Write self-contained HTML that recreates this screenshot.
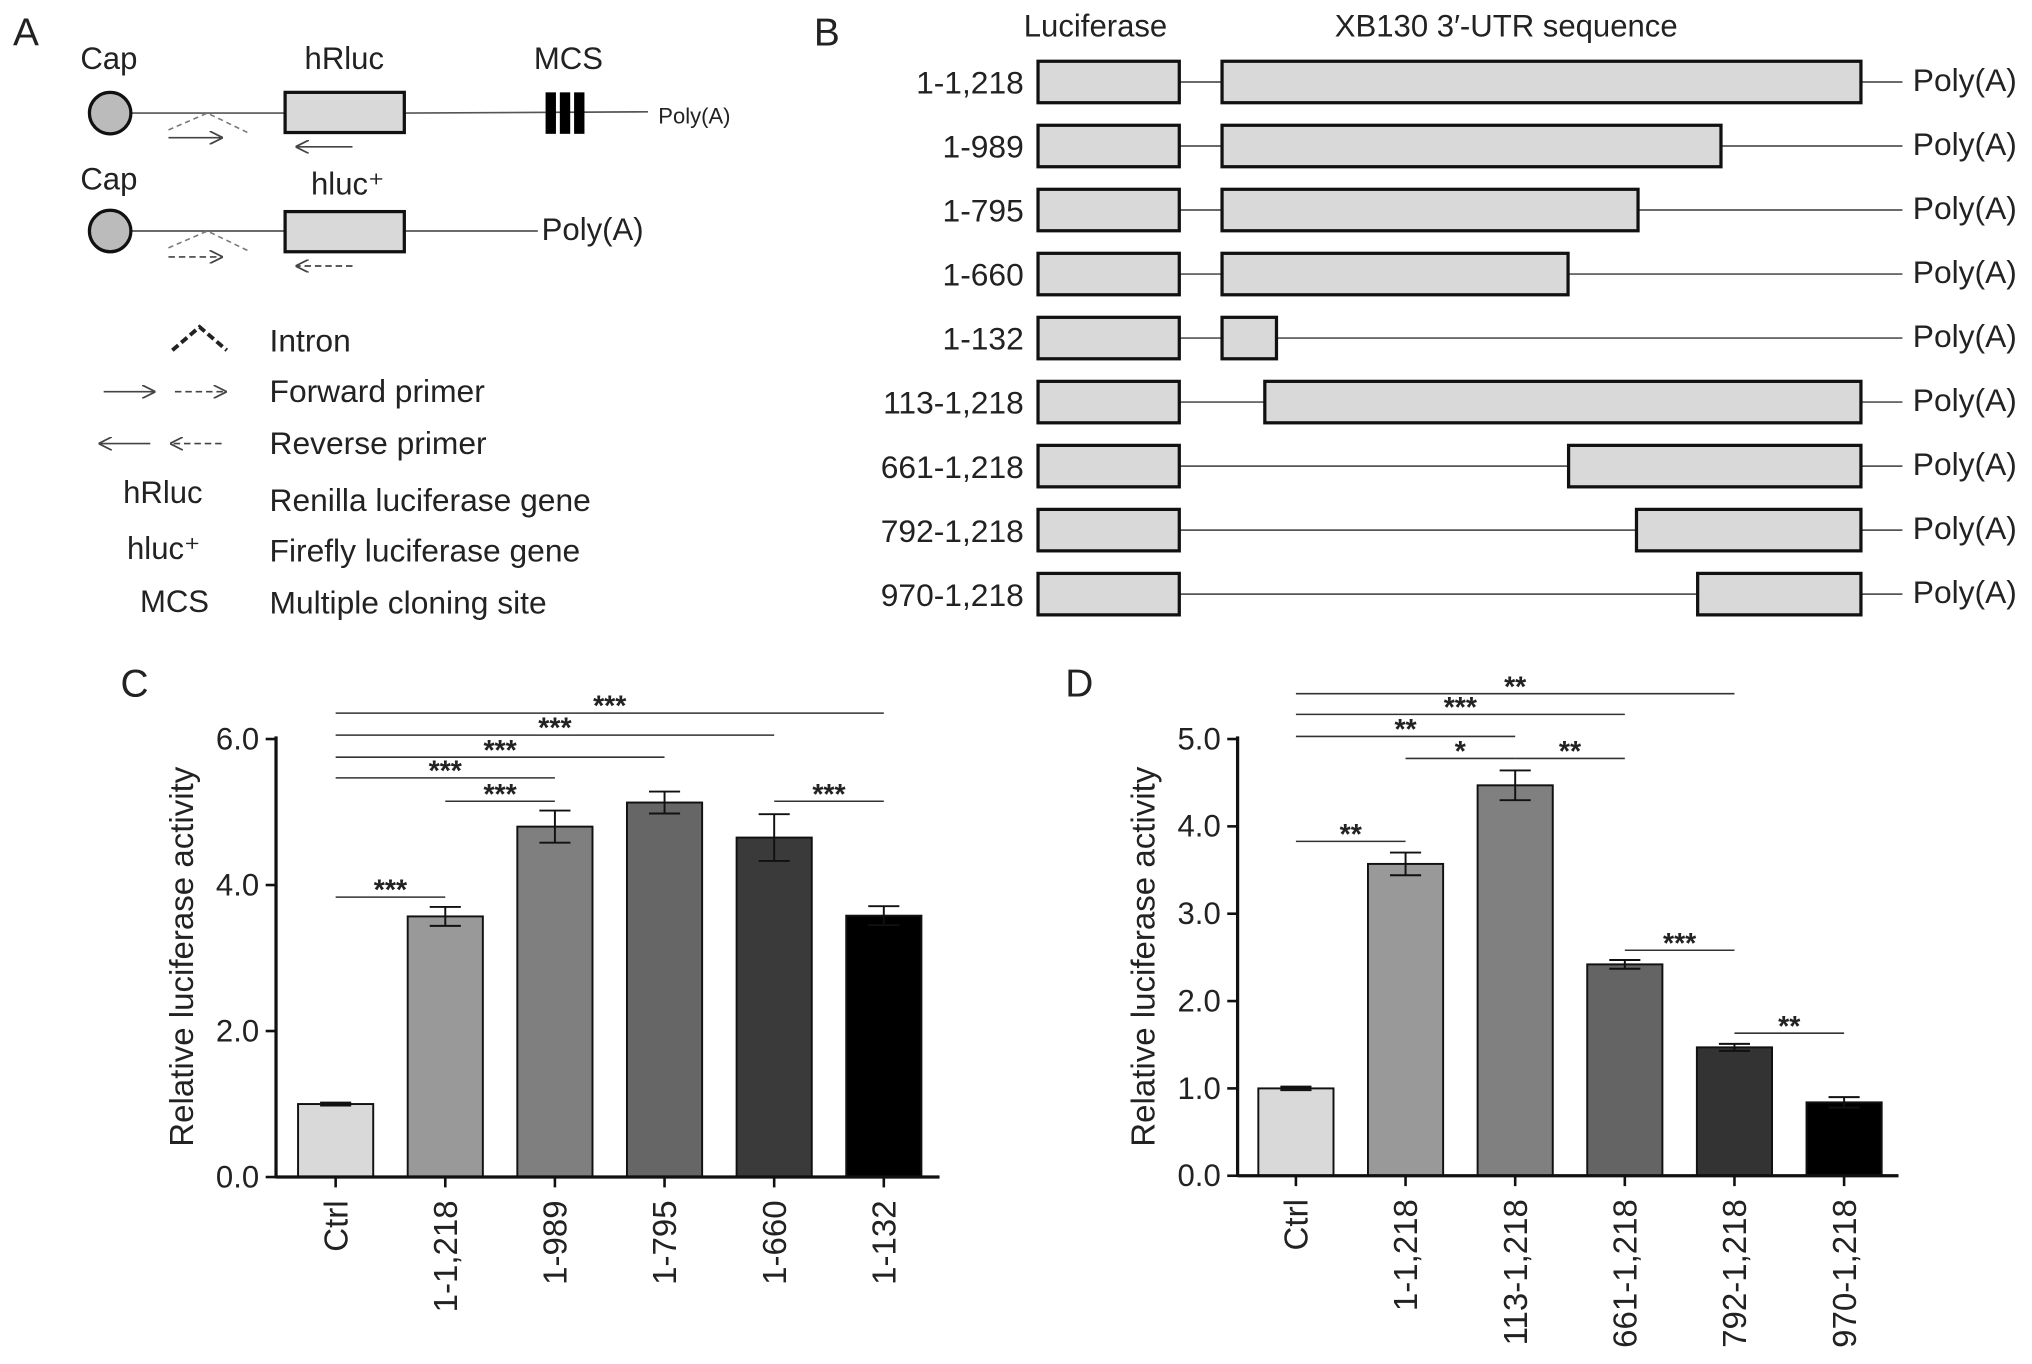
<!DOCTYPE html>
<html><head><meta charset="utf-8"><style>
html,body{margin:0;padding:0;background:#fff}
svg{display:block}
text{font-family:"Liberation Sans",Arial,sans-serif;fill:#222}
</style></head><body>
<svg id="fig" width="2032" height="1364" viewBox="0 0 1568 1052" xmlns="http://www.w3.org/2000/svg">
<defs>
<marker id="ah" viewBox="0 0 10 10" refX="10" refY="5" markerWidth="8" markerHeight="8" orient="auto-start-reverse"><path d="M0,0 L10,5 L0,10" fill="none" stroke="#444" stroke-width="1.3"/></marker>
</defs>
<g id="panelA">
<text x="10" y="35" font-size="30">A</text>
<text x="62" y="53" font-size="24">Cap</text>
<text x="235" y="53" font-size="24">hRluc</text>
<text x="412" y="53" font-size="24">MCS</text>
<line x1="100" y1="87" x2="220" y2="87" stroke="#555" stroke-width="1.3"/>
<line x1="312" y1="87" x2="500" y2="86" stroke="#555" stroke-width="1.3"/>
<circle cx="85" cy="87" r="16" fill="#bbb" stroke="#111" stroke-width="2.5"/>
<rect x="220" y="71" width="92" height="31" fill="#d9d9d9" stroke="#111" stroke-width="2.5"/>
<rect x="421" y="71" width="8" height="32" fill="#000"/><rect x="432" y="71" width="8" height="32" fill="#000"/><rect x="443" y="71" width="8" height="32" fill="#000"/>
<text x="508" y="95" font-size="17">Poly(A)</text>
<polyline points="130,100 160,87 191,102" fill="none" stroke="#777" stroke-width="1.2" stroke-dasharray="4,3"/>
<line x1="130" y1="106" x2="172" y2="106" stroke="#444" stroke-width="1.3" marker-end="url(#ah)"/>
<line x1="272" y1="113" x2="228" y2="113" stroke="#444" stroke-width="1.3" marker-end="url(#ah)"/>
<text x="62" y="146" font-size="24">Cap</text>
<text x="240" y="150" font-size="24">hluc⁺</text>
<line x1="100" y1="178" x2="220" y2="178" stroke="#555" stroke-width="1.3"/>
<line x1="312" y1="178" x2="415" y2="178" stroke="#555" stroke-width="1.3"/>
<circle cx="85" cy="178" r="16" fill="#bbb" stroke="#111" stroke-width="2.5"/>
<rect x="220" y="163" width="92" height="31" fill="#d9d9d9" stroke="#111" stroke-width="2.5"/>
<text x="418" y="185" font-size="24">Poly(A)</text>
<polyline points="130,191 160,178 191,193" fill="none" stroke="#777" stroke-width="1.2" stroke-dasharray="4,3"/>
<line x1="130" y1="198" x2="172" y2="198" stroke="#444" stroke-width="1.3" stroke-dasharray="5,3" marker-end="url(#ah)"/>
<line x1="272" y1="205" x2="228" y2="205" stroke="#444" stroke-width="1.3" stroke-dasharray="5,3" marker-end="url(#ah)"/>
<polyline points="133,270 154,252 175,270" fill="none" stroke="#222" stroke-width="3" stroke-dasharray="6,3"/>
<text x="208" y="271" font-size="24.5">Intron</text>
<line x1="80" y1="302" x2="120" y2="302" stroke="#444" stroke-width="1.3" marker-end="url(#ah)"/>
<line x1="135" y1="302" x2="175" y2="302" stroke="#444" stroke-width="1.3" stroke-dasharray="5,3" marker-end="url(#ah)"/>
<text x="208" y="310" font-size="24.5">Forward primer</text>
<line x1="116" y1="342" x2="76" y2="342" stroke="#444" stroke-width="1.3" marker-end="url(#ah)"/>
<line x1="171" y1="342" x2="131" y2="342" stroke="#444" stroke-width="1.3" stroke-dasharray="5,3" marker-end="url(#ah)"/>
<text x="208" y="350" font-size="24.5">Reverse primer</text>
<text x="95" y="388" font-size="24">hRluc</text><text x="208" y="394" font-size="24.5">Renilla luciferase gene</text>
<text x="98" y="431" font-size="24">hluc⁺</text><text x="208" y="433" font-size="24.5">Firefly luciferase gene</text>
<text x="108" y="472" font-size="24">MCS</text><text x="208" y="473" font-size="24.5">Multiple cloning site</text>
</g>
<g id="panelB">
<text x="628" y="35" font-size="30">B</text>
<text x="790" y="28" font-size="24">Luciferase</text>
<text x="1030" y="28" font-size="24">XB130 3′-UTR sequence</text>
</g>
<g id="panelC"><text x="93" y="537" font-size="30">C</text></g>
<g id="panelD"><text x="822" y="537" font-size="30">D</text></g>
</svg>
<script>
const NS='http://www.w3.org/2000/svg';
function mk(parent,tag,attrs,txt){const e=document.createElementNS(NS,tag);for(const k in attrs)e.setAttribute(k,attrs[k]);if(txt!==undefined)e.textContent=txt;parent.appendChild(e);return e;}

// Panel B constructs
const constructLabels=['1-1,218','1-989','1-795','1-660','1-132','113-1,218','661-1,218','792-1,218','970-1,218'];
const utrStart=[1,1,1,1,1,113,661,792,970];
const utrEnd=[1218,989,795,660,132,1218,1218,1218,1218];
// schematic (non-linear) axis anchors
const anchorNt=[1,113,132,660,795,970,989,1218];
const anchorPx=[943,976,985,1210,1264,1310,1328,1436];
function ntX(v){
  for(let i=0;i<anchorNt.length-1;i++){
    if(v<=anchorNt[i+1]){const t=(v-anchorNt[i])/(anchorNt[i+1]-anchorNt[i]);return anchorPx[i]+t*(anchorPx[i+1]-anchorPx[i]);}
  }
  return anchorPx[anchorPx.length-1];
}
const gB=document.getElementById('panelB');
constructLabels.forEach((lab,i)=>{
  const y=63+i*49.4;
  const t=mk(gB,'text',{x:790,y:y+9,'font-size':24.5,'text-anchor':'end'},lab);
  
  
  mk(gB,'line',{x1:910,y1:y,x2:1468,y2:y,stroke:'#555','stroke-width':1.3});
  const lb=mk(gB,'rect',{x:801,y:y-16,width:109,height:32,fill:'#d9d9d9',stroke:'#111','stroke-width':2.5});
  
  
  const x0=ntX(utrStart[i]),x1=ntX(utrEnd[i]);
  const ub=mk(gB,'rect',{x:x0,y:y-16,width:x1-x0,height:32,fill:'#d9d9d9',stroke:'#111','stroke-width':2.5});
  
  
  mk(gB,'text',{x:1476,y:y+7,'font-size':24.5},'Poly(A)');
});

// Panel C data
const catsC=['Ctrl','1-1,218','1-989','1-795','1-660','1-132'];
const valsC=[1.0,3.57,4.8,5.13,4.65,3.58];
const errC=[0.02,0.13,0.22,0.15,0.32,0.13];
const colorsC=['#d9d9d9','#999999','#7f7f7f','#666666','#3a3a3a','#000000'];
const ticksC=['0.0','2.0','4.0','6.0'];
const sigC=[[0,1,'***',692],[0,2,'***',600],[1,2,'***',618],[0,3,'***',584],[0,4,'***',567],[0,5,'***',550],[4,5,'***',618]];

// Panel D data
const catsD=['Ctrl','1-1,218','113-1,218','661-1,218','792-1,218','970-1,218'];
const valsD=[1.0,3.57,4.47,2.42,1.47,0.84];
const errD=[0.02,0.13,0.17,0.05,0.04,0.06];
const colorsD=['#d9d9d9','#999999','#808080','#646464','#333333','#000000'];
const ticksD=['0.0','1.0','2.0','3.0','4.0','5.0'];
const sigD=[[0,1,'**',649],[0,4,'**',535],[0,3,'***',551],[0,2,'**',568],[1,2,'*',585],[2,3,'**',585],[3,4,'***',733],[4,5,'**',797]];

function chart(g,cats,vals,errs,colors,ticks,sig,o){
  const y=v=>o.y0-(v/o.ymax)*(o.y0-o.ytop);
  const x=i=>o.x0c+i*o.step;
  cats.forEach((c,i)=>{
    const b=mk(g,'rect',{x:x(i)-29,y:y(vals[i]),width:58,height:o.y0-y(vals[i]),fill:colors[i],stroke:'#111','stroke-width':1.5});
    
    
    const et=y(vals[i]+errs[i]),eb=y(vals[i]-errs[i]);
    mk(g,'line',{x1:x(i),y1:et,x2:x(i),y2:eb,stroke:'#111','stroke-width':1.5});
    mk(g,'line',{x1:x(i)-12,y1:et,x2:x(i)+12,y2:et,stroke:'#111','stroke-width':1.5});
    mk(g,'line',{x1:x(i)-12,y1:eb,x2:x(i)+12,y2:eb,stroke:'#111','stroke-width':1.5});
    mk(g,'line',{x1:x(i),y1:o.y0,x2:x(i),y2:o.y0+8,stroke:'#111','stroke-width':2});
    const t=mk(g,'text',{x:0,y:0,'font-size':25.5,'text-anchor':'end',transform:`translate(${x(i)+9},${o.y0+18}) rotate(-90)`},c);
    
    
  });
  mk(g,'line',{x1:o.ax,y1:o.ytop-2,x2:o.ax,y2:o.y0+1,stroke:'#111','stroke-width':2.5});
  mk(g,'line',{x1:o.ax,y1:o.y0,x2:o.xend,y2:o.y0,stroke:'#111','stroke-width':2.5});
  ticks.forEach((t,i)=>{
    const v=parseFloat(t),yy=y(v);
    mk(g,'line',{x1:o.ax-8,y1:yy,x2:o.ax,y2:yy,stroke:'#111','stroke-width':2});
    const tl=mk(g,'text',{x:o.ax-13,y:yy+8,'font-size':24,'text-anchor':'end'},t);
    
    
  });
  const yl=mk(g,'text',{x:0,y:0,'font-size':25.5,'text-anchor':'middle',transform:`translate(${o.ylx},${o.yly}) rotate(-90)`},'Relative luciferase activity');
  
  
  sig.forEach(s=>{
    mk(g,'line',{x1:x(s[0]),y1:s[3],x2:x(s[1]),y2:s[3],stroke:'#333','stroke-width':1.2});
    const st=mk(g,'text',{x:(x(s[0])+x(s[1]))/2,y:s[3]+2,'font-size':22,'font-weight':'bold','text-anchor':'middle'},s[2]);
    
    
  });
}
chart(document.getElementById('panelC'),catsC,valsC,errC,colorsC,ticksC,sigC,{y0:908,ytop:570,ymax:6,x0c:259,step:84.6,ax:213,xend:725,ylx:149,yly:738});
chart(document.getElementById('panelD'),catsD,valsD,errD,colorsD,ticksD,sigD,{y0:907,ytop:570,ymax:5,x0c:1000,step:84.6,ax:955,xend:1465,ylx:891,yly:738});
</script>
</body></html>
